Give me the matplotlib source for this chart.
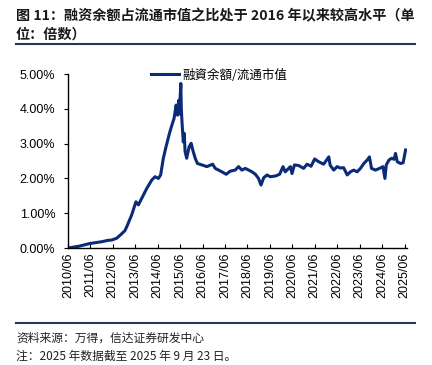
import matplotlib
matplotlib.use('Agg')
import matplotlib.pyplot as plt
from matplotlib.lines import Line2D
from matplotlib.ticker import FuncFormatter

plt.rcParams['font.family'] = ['Liberation Sans', 'Noto Sans CJK SC', 'DejaVu Sans']

##数据（读图估计，x为年份小数）
t = [2010.42, 2010.90, 2011.40, 2011.92, 2012.20, 2012.37, 2012.59, 2012.80, 2012.96, 2013.04,
     2013.26, 2013.45, 2013.56, 2013.78, 2013.93, 2014.15, 2014.30, 2014.45, 2014.55, 2014.67,
     2014.79, 2014.94, 2015.05, 2015.15, 2015.24, 2015.30, 2015.36, 2015.38, 2015.45, 2015.47,
     2015.51, 2015.56, 2015.60, 2015.64, 2015.71, 2015.82, 2015.91, 2015.98, 2016.09, 2016.19,
     2016.38, 2016.61, 2016.87, 2016.98, 2017.13, 2017.28, 2017.47, 2017.65, 2017.87, 2018.02,
     2018.17, 2018.32, 2018.62, 2018.77, 2018.91, 2019.02, 2019.14, 2019.29, 2019.43, 2019.66,
     2019.85, 2020.00, 2020.10, 2020.33, 2020.40, 2020.51, 2020.70, 2020.92, 2021.07, 2021.25,
     2021.41, 2021.59, 2021.81, 2022.04, 2022.10, 2022.26, 2022.41, 2022.55, 2022.70, 2022.86,
     2023.00, 2023.15, 2023.30, 2023.45, 2023.60, 2023.75, 2023.85, 2023.94, 2024.12, 2024.30,
     2024.45, 2024.54, 2024.60, 2024.72, 2024.84, 2024.95, 2025.01, 2025.09, 2025.24, 2025.35,
     2025.46]
ratio = [0.00, 0.05, 0.13, 0.18, 0.22, 0.23, 0.28, 0.40, 0.50, 0.61,
         0.95, 1.33, 1.24, 1.52, 1.71, 1.95, 2.05, 2.00, 2.10, 2.58,
         2.91, 3.29, 3.53, 3.73, 4.11, 3.82, 4.25, 3.85, 4.73, 4.01,
         3.53, 3.05, 3.30, 2.77, 2.58, 2.91, 3.01, 2.82, 2.58, 2.43,
         2.39, 2.34, 2.41, 2.29, 2.24, 2.19, 2.12, 2.21, 2.24, 2.34,
         2.24, 2.29, 2.19, 2.12, 2.00, 1.81, 2.02, 2.10, 2.05, 2.07,
         2.12, 2.34, 2.19, 2.34, 2.14, 2.39, 2.37, 2.29, 2.41, 2.35,
         2.56, 2.48, 2.41, 2.62, 2.38, 2.24, 2.34, 2.30, 2.31, 2.10,
         2.19, 2.24, 2.19, 2.29, 2.43, 2.53, 2.62, 2.29, 2.24, 2.29,
         2.34, 2.00, 2.39, 2.53, 2.58, 2.55, 2.72, 2.48, 2.43, 2.45,
         2.82]
ratio = [v / 100 for v in ratio]

years = list(range(2010, 2026))
xtick_pos = [y + 5 / 12 for y in years]
xtick_lab = ['{}/06'.format(y) for y in years]

navy = '#0B2A78'
rule = '#1F3864'

fig = plt.figure(figsize=(4.32, 3.65), dpi=100)
ax = fig.add_axes([0.157, 0.3205, 0.785, 0.4765])

ax.plot(t, ratio, color=navy, lw=2.2, label='融資余額/流通市值')

ax.set_ylim(0, 0.05)
ax.set_yticks([0, 0.01, 0.02, 0.03, 0.04, 0.05])
ax.yaxis.set_major_formatter(FuncFormatter(lambda v, p: '{:.2f}%'.format(v * 100)))
ax.set_xlim(2010.42, 2025.52)
ax.set_xticks(xtick_pos)
ax.set_xticklabels(xtick_lab, rotation=90)

for s in ['top', 'right']:
    ax.spines[s].set_visible(False)
ax.spines['left'].set_linewidth(1.0)
ax.spines['bottom'].set_linewidth(1.0)
ax.tick_params(axis='y', direction='out', length=3, labelsize=9, pad=6)
ax.tick_params(axis='x', direction='in', length=3, labelsize=9, pad=3)

leg = ax.legend(loc='upper left', bbox_to_anchor=(0.232, 1.06), frameon=False,
                handlelength=2.2, handletextpad=0.3, borderaxespad=0,
                prop={'family': ['Noto Sans CJK SC', 'DejaVu Sans'], 'size': 9})

##标题与注释
fig.text(0.037, 0.956, '图 11：融资余额占流通市值之比处于 2016 年以来较高水平（单',
         fontsize=10.2, fontweight='bold', color='#1a1a1a',
         family=['Noto Sans CJK SC', 'DejaVu Sans'], va='center')
fig.text(0.037, 0.906, '位：倍数）', fontsize=10.2, fontweight='bold', color='#1a1a1a',
         family=['Noto Sans CJK SC', 'DejaVu Sans'], va='center')
fig.add_artist(Line2D([0.037, 0.961], [0.879, 0.879], color=rule, lw=1.5))
fig.add_artist(Line2D([0.037, 0.961], [0.115, 0.115], color=rule, lw=1.5))
fig.text(0.037, 0.074, '资料来源：万得，信达证券研发中心', fontsize=8.5, color='#222222',
         family=['Noto Sans CJK SC', 'DejaVu Sans'], va='center')
fig.text(0.037, 0.024, '注：2025 年数据截至 2025 年 9 月 23 日。', fontsize=8.5, color='#222222',
         family=['Noto Sans CJK SC', 'DejaVu Sans'], va='center')

plt.savefig('out.png', dpi=100)
